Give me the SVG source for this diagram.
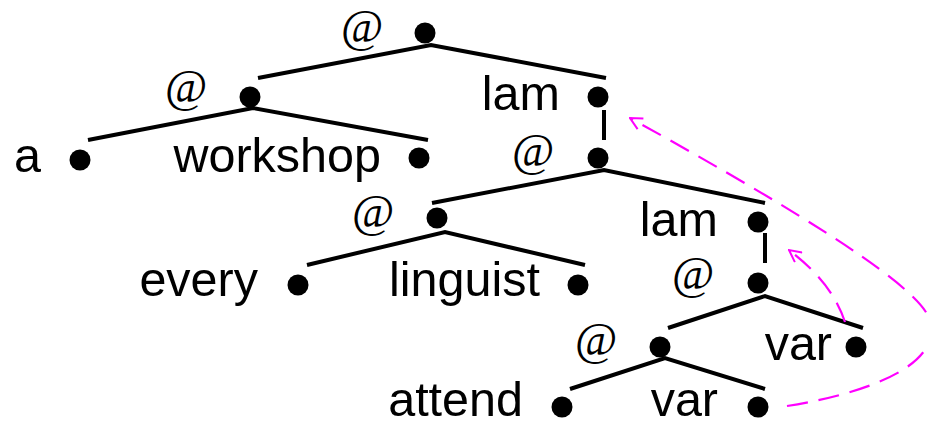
<svg xmlns="http://www.w3.org/2000/svg" width="927" height="426" viewBox="0 0 927 426">
  <style>
    .edge { stroke: #000; stroke-width: 4; fill: none; stroke-linecap: butt; }
    .dot { fill: #000; }
    .lbl { font-family: "Liberation Sans", Arial, sans-serif; font-size: 48.5px; fill: #000; text-anchor: end; }
    .app { font-family: "Liberation Serif", "Times New Roman", serif; font-size: 46px; fill: #000; }
    .bind { stroke: #ff00ff; stroke-width: 2.2; fill: none; stroke-dasharray: 21 11; }
  </style>
  <defs>
    <marker id="open-head" viewBox="0 0 14 14" refX="13" refY="7" markerWidth="14" markerHeight="14" markerUnits="userSpaceOnUse" orient="auto">
      <path d="M1,1 L13,7 L1,13" fill="none" stroke="#ff00ff" stroke-width="2"/>
    </marker>
  </defs>

  <!-- tree edges -->
  <g id="edges">
    <path class="edge" d="M258,78 L431,45 L606,78"/>
    <path class="edge" d="M88,140 L253,108 L428,140"/>
    <path class="edge" d="M604,110 L604,140"/>
    <path class="edge" d="M432,203 L604,170 L765,203"/>
    <path class="edge" d="M307,265 L445,232 L585,265"/>
    <path class="edge" d="M765,233 L765,263"/>
    <path class="edge" d="M668,328 L765,296 L863,328"/>
    <path class="edge" d="M570,389 L665,358 L765,389"/>
  </g>

  <!-- variable binding links -->
  <g id="bindings">
    <path class="bind" d="M787,406 C875,392 945,362 929,318 C915,280 760,190 630,118" marker-end="url(#open-head)"/>
    <path class="bind" d="M845,322 C835,292 815,270 789,250" marker-end="url(#open-head)"/>
  </g>

  <g id="n-root"><text class="app" x="341" y="42">@</text><circle class="dot" cx="425" cy="33" r="10.5"/></g>
  <g id="n-app1"><text class="app" x="165" y="102">@</text><circle class="dot" cx="250" cy="97" r="10.5"/></g>
  <g id="n-lam1"><text class="lbl" x="560" y="110">lam</text><circle class="dot" cx="598" cy="97" r="10.5"/></g>
  <g id="n-a"><text class="lbl" x="41" y="172">a</text><circle class="dot" cx="80" cy="160" r="10.5"/></g>
  <g id="n-workshop"><text class="lbl" x="381" y="172">workshop</text><circle class="dot" cx="419" cy="158" r="10.5"/></g>
  <g id="n-app2"><text class="app" x="512" y="166">@</text><circle class="dot" cx="598" cy="158" r="10.5"/></g>
  <g id="n-app3"><text class="app" x="352" y="227">@</text><circle class="dot" cx="437" cy="218" r="10.5"/></g>
  <g id="n-lam2"><text class="lbl" x="718" y="236">lam</text><circle class="dot" cx="758" cy="222" r="10.5"/></g>
  <g id="n-every"><text class="lbl" x="258" y="296">every</text><circle class="dot" cx="298" cy="285" r="10.5"/></g>
  <g id="n-linguist"><text class="lbl" x="540" y="296">linguist</text><circle class="dot" cx="578" cy="285" r="10.5"/></g>
  <g id="n-app4"><text class="app" x="672" y="289">@</text><circle class="dot" cx="758" cy="283" r="10.5"/></g>
  <g id="n-app5"><text class="app" x="575" y="355">@</text><circle class="dot" cx="660" cy="347" r="10.5"/></g>
  <g id="n-var1"><text class="lbl" x="832" y="360">var</text><circle class="dot" cx="856" cy="347" r="10.5"/></g>
  <g id="n-attend"><text class="lbl" x="523" y="416">attend</text><circle class="dot" cx="562" cy="407" r="10.5"/></g>
  <g id="n-var2"><text class="lbl" x="718" y="416">var</text><circle class="dot" cx="758" cy="407" r="10.5"/></g>
</svg>
